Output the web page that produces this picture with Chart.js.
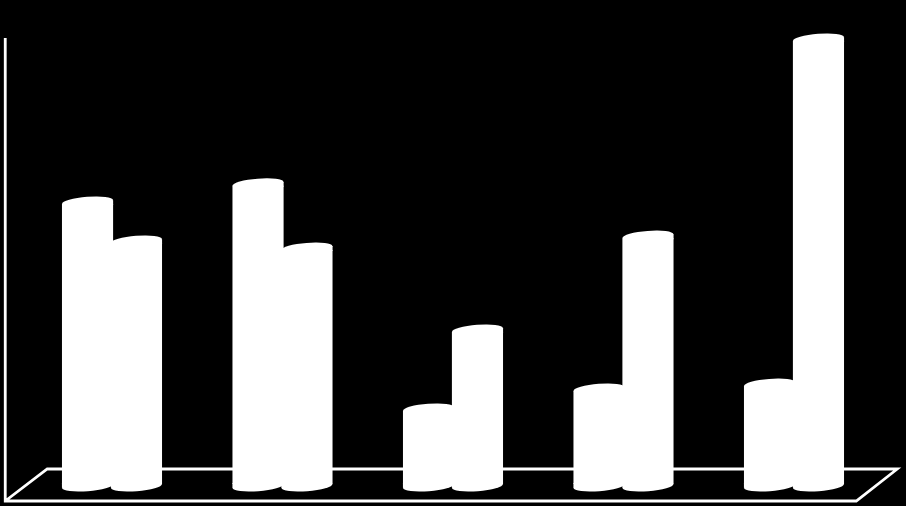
<!DOCTYPE html>
<html>
<head>
<meta charset="utf-8">
<title>Cylinder chart</title>
<style>
    html, body { margin: 0; padding: 0; background: #000; }
    #wrap { width: 906px; height: 506px; }
</style>
<script src="https://cdn.jsdelivr.net/npm/chart.js@4"></script>
</head>
<body>
<div id="wrap"><canvas id="chart"></canvas></div>
<script>
// Data ------------------------------------------------------------------------------------

const categories = ['1', '2', '3', '4', '5'];
const seriesA = [63.2, 67.3, 16.5, 21.0, 22.1];
const seriesB = [54.4, 52.8, 34.3, 55.5, 100];

// Constants -------------------------------------------------------------------------------

const INK = '#ffffff';
const CAP_RY = 5.2;
const CAP_TILT = -0.075;
const CAP_SHIFT = 2;
const LINE_WIDTH = 2.8;

// Cylinder caps and the 3d floor ----------------------------------------------------------

const floorPlugin = {
    id: 'floor',
    beforeDatasetsDraw(chart) {
        const ctx = chart.ctx;
        const area = chart.chartArea;
        const backY = area.bottom - 15;
        const frontY = area.bottom + 17;
        ctx.save();
        ctx.strokeStyle = INK;
        ctx.lineWidth = LINE_WIDTH;
        ctx.beginPath();
        ctx.moveTo(5.25, area.top - 3);
        ctx.lineTo(5.25, frontY);
        ctx.lineTo(area.right - 23, frontY);
        ctx.lineTo(area.right + 18, backY);
        ctx.lineTo(47.25, backY);
        ctx.lineTo(5.25, frontY);
        ctx.stroke();
        ctx.restore();
    }
};

const capPlugin = {
    id: 'caps',
    afterDatasetsDraw(chart) {
        const ctx = chart.ctx;
        ctx.save();
        ctx.fillStyle = INK;
        chart.data.datasets.forEach(function (_, i) {
            chart.getDatasetMeta(i).data.forEach(function (bar) {
                const rx = bar.width / 2;
                const drop = rx * Math.sin(-CAP_TILT) * 2;

                // top cap, the wedge fills the gap under its raised right end
                ctx.beginPath();
                ctx.ellipse(bar.x, bar.y - CAP_SHIFT, rx, CAP_RY, CAP_TILT, 0, Math.PI * 2);
                ctx.fill();
                ctx.beginPath();
                ctx.moveTo(bar.x - rx, bar.y + 1);
                ctx.lineTo(bar.x + rx, bar.y - drop);
                ctx.lineTo(bar.x + rx, bar.y + 1);
                ctx.fill();

                // bottom cap, same wedge on the lowered left end
                ctx.beginPath();
                ctx.ellipse(bar.x, bar.base + CAP_SHIFT, rx, CAP_RY, CAP_TILT, 0, Math.PI * 2);
                ctx.fill();
                ctx.beginPath();
                ctx.moveTo(bar.x - rx, bar.base - 1);
                ctx.lineTo(bar.x - rx, bar.base + drop);
                ctx.lineTo(bar.x + rx, bar.base - 1);
                ctx.fill();
            });
        });
        ctx.restore();
    }
};

// Chart -----------------------------------------------------------------------------------

new Chart(document.getElementById('chart').getContext('2d'), {
    type: 'bar',
    data: {
        labels: categories,
        datasets: [
            { label: 'A', data: seriesA, backgroundColor: INK, borderWidth: 0 },
            { label: 'B', data: seriesB, backgroundColor: INK, borderWidth: 0 }
        ]
    },
    options: {
        responsive: true,
        maintainAspectRatio: false,
        animation: false,
        categoryPercentage: 0.574,
        barPercentage: 1.045,
        layout: { padding: { left: 26.75, right: 26.75, top: 41, bottom: 22 } },
        plugins: { legend: { display: false }, tooltip: { enabled: false } },
        scales: {
            x: { display: false },
            y: { display: false, min: 0, max: 100 }
        }
    },
    plugins: [floorPlugin, capPlugin]
});
</script>
</body>
</html>
